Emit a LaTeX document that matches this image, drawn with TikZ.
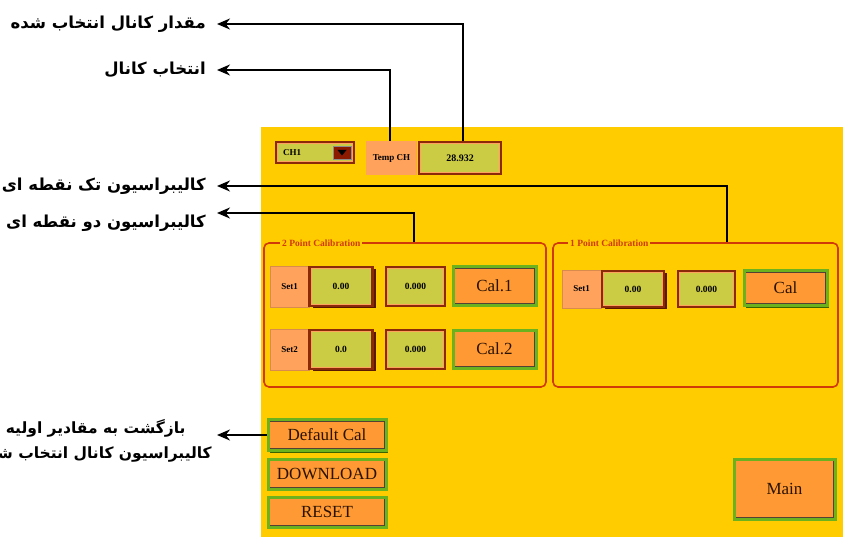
\documentclass[tikz,border=0pt]{standalone}
\usepackage{fontspec}
\setmainfont{Liberation Serif}
\newfontfamily\pfont[Script=Arabic]{DejaVu Sans}
\TeXXeTstate=1
\usetikzlibrary{arrows.meta,shadows}

\definecolor{panel}{HTML}{FFCC00}
\definecolor{olivefill}{HTML}{CCCC44}
\definecolor{brownedge}{HTML}{8A2A08}
\definecolor{browndark}{HTML}{5A1800}
\definecolor{setfill}{HTML}{FFA35C}
\definecolor{btnfill}{HTML}{FF9933}
\definecolor{btngreen}{HTML}{6CB21E}
\definecolor{btndark}{HTML}{3A6400}
\definecolor{grouped}{HTML}{D03A08}
\definecolor{txtdark}{HTML}{2A1200}
\definecolor{ddred}{HTML}{8B1A00}

\tikzset{
  lbl/.style={font=\pfont\bfseries\fontsize{16.5}{25}\selectfont, inner xsep=11pt, inner ysep=1pt, anchor=east},
  arr/.style={line width=1.8pt, -{Stealth[length=13pt,width=11pt]}},
  valbox/.style={draw=brownedge, line width=2.5pt, fill=olivefill, inner sep=0pt,
    font=\bfseries\fontsize{9.5}{11}\selectfont,
    path picture={\draw[setfill, line width=0.8pt]
      ([shift={(1.6pt,1.6pt)}]path picture bounding box.south west) rectangle
      ([shift={(-1.6pt,-1.6pt)}]path picture bounding box.north east);}},
  inshadow/.style={drop shadow={shadow xshift=3pt, shadow yshift=-2pt, fill=browndark, opacity=1}},
  btn/.style={draw=btngreen, line width=3pt, fill=btnfill, text=txtdark, inner sep=0pt,
    font=\fontsize{17}{20}\selectfont,
    drop shadow={shadow xshift=2pt, shadow yshift=-2pt, fill=btndark, opacity=1},
    path picture={\draw[txtdark!80, line width=0.9pt]
      ([shift={(1.9pt,1.9pt)}]path picture bounding box.south west) rectangle
      ([shift={(-1.9pt,-1.9pt)}]path picture bounding box.north east);}},
  setbox/.style={fill=setfill, draw=setfill!85!black, line width=0.5pt, inner sep=0pt,
    font=\bfseries\fontsize{9}{11}\selectfont},
  group/.style={draw=grouped, line width=1.6pt, rounded corners=5pt, inner sep=0pt},
  gtitle/.style={fill=panel, text=grouped, font=\bfseries\fontsize{9.5}{11}\selectfont,
    inner sep=2pt, anchor=west}
}

\begin{document}
\begin{tikzpicture}[x=1pt, y=-1pt]
\path[use as bounding box] (0,0) rectangle (843,537);
\clip (0,0) rectangle (843,537);
\fill[white] (0,0) rectangle (843,537);

% control panel background
\fill[panel] (261,127) rectangle (843,537);

% channel selector and reading
\node[valbox, minimum width=78, minimum height=21] (cb) at (315,152.5) {};
\node[font=\bfseries\fontsize{9}{11}\selectfont, anchor=west, inner sep=0pt] (cbt) at (283,152.5) {CH1};
\node[fill=ddred, draw=black!45, line width=0.8pt, minimum width=18, minimum height=13, inner sep=0pt] (cbb) at (342,152.5) {};
\fill[black] ([shift={(-4.5pt,2.5pt)}]cbb.center) -- ([shift={(4.5pt,2.5pt)}]cbb.center) -- ([shift={(0pt,-3pt)}]cbb.center) -- cycle;
\node[setbox, draw=none, minimum width=51, minimum height=34] (tempch) at (391.5,158) {Temp CH};
\node[valbox, minimum width=82, minimum height=32, font=\bfseries\fontsize{10}{12}\selectfont] (tempval) at (460,158) {28.932};

% two point calibration group
\node[group, minimum width=282, minimum height=144] (g2) at (405,315) {};
\node[gtitle] (g2t) at (280,243) {2 Point Calibration};
\node[setbox, minimum width=39, minimum height=41] (s21) at (289.5,286.5) {Set1};
\node[valbox, inshadow, minimum width=63, minimum height=39] (v21) at (341,286.5) {0.00};
\node[valbox, minimum width=59, minimum height=39] (w21) at (415.5,286.5) {0.000};
\node[btn, minimum width=83, minimum height=38] (cal1) at (494.5,286) {Cal.1};
\node[setbox, minimum width=39, minimum height=41] (s22) at (289.5,349.5) {Set2};
\node[valbox, inshadow, minimum width=63, minimum height=39] (v22) at (341,349.5) {0.0};
\node[valbox, minimum width=59, minimum height=39] (w22) at (415.5,349.5) {0.000};
\node[btn, minimum width=83, minimum height=38] (cal2) at (494.5,349) {Cal.2};

% one point calibration group
\node[group, minimum width=285, minimum height=144] (g1) at (695.5,315) {};
\node[gtitle] (g1t) at (568,243) {1 Point Calibration};
\node[setbox, minimum width=39, minimum height=38] (s11) at (581.5,289) {Set1};
\node[valbox, inshadow, minimum width=62, minimum height=36] (v11) at (633,289) {0.00};
\node[valbox, minimum width=57, minimum height=36] (w11) at (706.5,289) {0.000};
\node[btn, minimum width=83, minimum height=35] (cal0) at (785.5,288) {Cal};

% lower buttons
\node[btn, minimum width=118, minimum height=31] (defcal) at (327,435) {Default Cal};
\node[btn, minimum width=118, minimum height=30] (down) at (327,474) {DOWNLOAD};
\node[btn, minimum width=118, minimum height=30] (reset) at (327,512) {RESET};
\node[btn, minimum width=101, minimum height=60] (mainb) at (784.5,489) {Main};

% captions
\node[lbl] (l1) at (217,24) {\beginR مقدار کانال انتخاب شده\endR};
\node[lbl] (l2) at (217,70) {\beginR انتخاب کانال\endR};
\node[lbl] (l3) at (217,186) {\beginR کالیبراسیون تک نقطه ای\endR};
\node[lbl] (l4) at (217,223) {\beginR کالیبراسیون دو نقطه ای\endR};
\node[lbl, font=\pfont\bfseries\fontsize{15.5}{25}\selectfont, inner xsep=5pt, align=center] (l5) at (217,441)
  {\beginR بازگشت به مقادیر اولیه\endR\\\beginR کالیبراسیون کانال انتخاب شده\endR};

% leader lines
\draw[arr] ([xshift=3pt]tempval.north) |- (l1.east);
\draw[arr] ([xshift=-1.5pt]tempch.north) |- (l2.east);
\draw[arr] ([xshift=175pt]g1.north west) |- (l3.east);
\draw[arr] ([xshift=151pt]g2.north west) |- ([yshift=10pt]l4.east);
\draw[arr] (defcal.west) -- (defcal.west -| l5.east);
\end{tikzpicture}
\end{document}
